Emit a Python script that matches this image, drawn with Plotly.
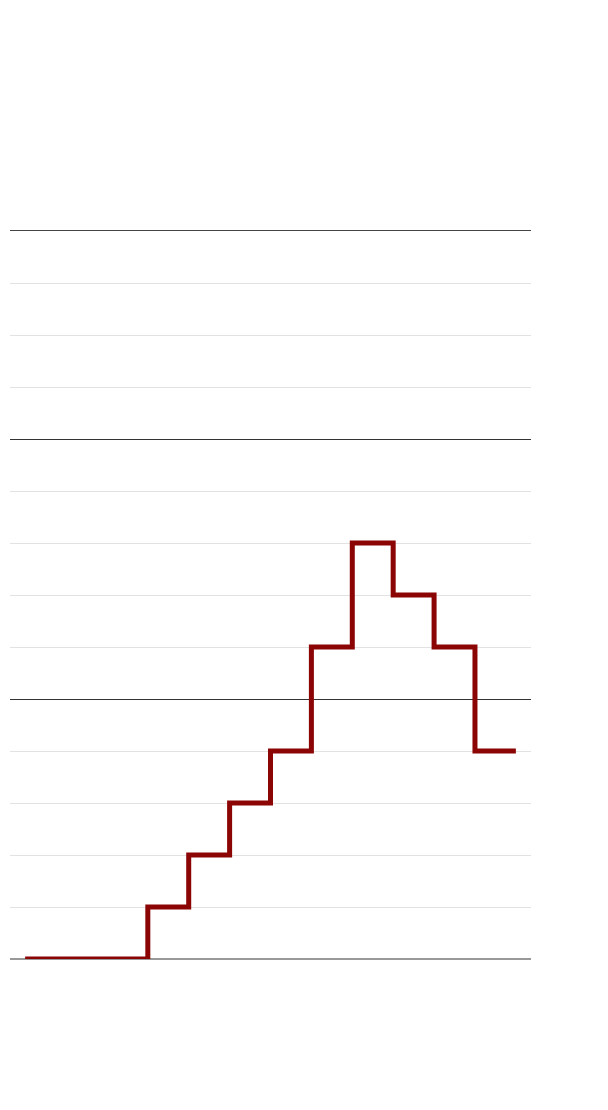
import plotly.graph_objects as go

# Serie escalonada (valor por periodo)
periodos = list(range(13))
valores = [0, 0, 0, 1, 2, 3, 4, 6, 8, 7, 6, 4, 4]

# Lineas de referencia marcadas (y)
lineas_fuertes = [5, 10]

fig = go.Figure()

fig.add_trace(go.Scatter(
    x=periodos,
    y=valores,
    mode="lines",
    line=dict(color="#8b0505", width=5, shape="hv"),
    hoverinfo="skip",
    showlegend=False
))

fig.update_layout(
    width=608,
    height=1110,
    margin=dict(l=2, r=85, t=223, b=159),
    paper_bgcolor="white",
    plot_bgcolor="white",
    xaxis=dict(
        range=[-0.37, 12.37],
        side="top",
        showline=True,
        linecolor="#444444",
        linewidth=1,
        showgrid=False,
        zeroline=False,
        showticklabels=False,
        ticks=""
    ),
    yaxis=dict(
        range=[0, 14],
        tickmode="array",
        tickvals=lineas_fuertes,
        showgrid=True,
        gridcolor="#333333",
        gridwidth=1,
        zeroline=True,
        zerolinecolor="#999999",
        zerolinewidth=1.5,
        showticklabels=False,
        ticks="",
        minor=dict(dtick=1, showgrid=True, gridcolor="#e2e2e2", gridwidth=1)
    )
)

fig.write_html("out.html")
